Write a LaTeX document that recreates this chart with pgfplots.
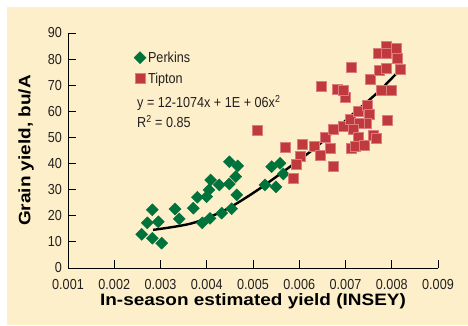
\documentclass[border=0pt]{standalone}
\usepackage{pgfplots}
\pgfplotsset{compat=1.18}
\usepackage{fontspec}
\setmainfont{Liberation Sans}[FakeStretch=0.87]
\newfontfamily\titlefont{Liberation Sans}[FakeStretch=1.15]
\definecolor{cream}{HTML}{FCEFC9}
\definecolor{pgreen}{HTML}{00723C}
\definecolor{tred}{HTML}{C0393C}
\definecolor{tredb}{HTML}{DC7C7E}
\definecolor{txt}{HTML}{231F20}
\begin{document}
\begin{tikzpicture}[x=1pt,y=1pt]
\path[use as bounding box] (0,0) rectangle (468,326);
\fill[cream] (7,1) rectangle (468,319);
\begin{axis}[
  at={(68pt,58pt)}, anchor=south west,
  width=370pt, height=235pt, scale only axis,
  xmin=0.001, xmax=0.009, ymin=0, ymax=90,
  scaled x ticks=false, scaled y ticks=false,
  axis lines*=left, axis line style={line width=0.9pt, black},
  xtick={0.001,0.002,0.003,0.004,0.005,0.006,0.007,0.008,0.009},
  xticklabels={0.001,0.002,0.003,0.004,0.005,0.006,0.007,0.008,0.009},
  ytick={0,10,20,30,40,50,60,70,80,90},
  yticklabels={0,10,20,30,40,50,60,70,80,90},
  tick align=inside, major tick length=8pt,
  tick style={line width=0.9pt, black},
  /pgf/number format/assume math mode=true,
  ticklabel style={font=\fontsize{14.5}{16}\selectfont, text=txt},
  xticklabel style={inner sep=0pt, anchor=north, yshift=-11pt},
  yticklabel style={inner sep=0pt, anchor=east, xshift=-6pt},
  xlabel={In-season estimated yield (INSEY)},
  ylabel={Grain yield, bu/A},
  label style={font=\titlefont\bfseries\fontsize{16.5}{18}\selectfont, text=black},
  xlabel style={at={(axis description cs:0.5,-0.1434)}, anchor=center},
  ylabel style={at={(axis description cs:-0.1135,0.5)}, anchor=center},
  clip=false,
  legend style={at={(axis description cs:0.178,0.93)}, anchor=north west,
    draw=none, fill=none, inner sep=0pt, row sep=5pt,
    font=\fontsize{14.5}{16}\selectfont, text=txt,
    /tikz/every even column/.append style={column sep=4pt}},
  legend cell align=left,
  legend image code/.code={\draw[#1] plot coordinates {(6pt,0pt)};},
]
\addplot[only marks, mark=square*, mark size=4.25pt, mark options={rotate=45, fill=pgreen, draw=pgreen}] coordinates {
(0.002594,12.9) (0.002823,22.3) (0.002715,17.3) (0.002952,17.7)
(0.002823,11.4) (0.003026,9.5) (0.003314,22.6) (0.003406,18.8)
(0.003709,22.9) (0.003796,27.1) (0.003904,17.3) (0.004070,19.0)
(0.003999,27.3) (0.004085,33.7) (0.004049,29.9) (0.004271,31.8)
(0.004323,21.0) (0.004488,32.2) (0.004488,40.7) (0.004669,39.1)
(0.004626,35.0) (0.004648,28.0) (0.004539,22.7) (0.005404,38.8)
(0.005584,40.1) (0.005655,36.0) (0.005259,31.8) (0.005497,31.1)
};
\addlegendentry{Perkins}
\addplot[only marks, mark=square*, mark size=5pt, mark options={fill=tred, draw=tredb, line width=0.6pt}] coordinates {
(0.005101,52.9) (0.005692,46.1) (0.006066,47.5) (0.006016,42.6)
(0.005930,39.8) (0.005872,34.4) (0.006326,46.7) (0.006449,43.3)
(0.006557,50.1) (0.006680,45.8) (0.006736,39.1) (0.006470,69.7)
(0.006823,68.4) (0.006989,65.4) (0.006953,67.9) (0.006736,53.1)
(0.006953,54.1) (0.007097,56.9) (0.007277,59.9) (0.007472,62.4)
(0.007515,59.0) (0.007459,55.6) (0.007299,55.4) (0.007169,53.1)
(0.007277,50.1) (0.007134,45.8) (0.007205,46.5) (0.007400,47.1)
(0.007601,50.9) (0.007675,49.7) (0.007904,56.7) (0.007134,76.9)
(0.007530,72.4) (0.007731,75.8) (0.007876,76.5) (0.007782,68.2)
(0.007984,68.2) (0.008178,76.1) (0.008120,80.3) (0.008107,84.1)
(0.007891,84.8) (0.007709,82.2) (0.007876,82.2)
};
\addlegendentry{Tipton}
\addplot[smooth, line width=2.4pt, black, forget plot] coordinates {
(0.00284,14.6) (0.003675,17.1) (0.004395,22.2) (0.005044,29.2)
(0.005655,36.9) (0.006377,46.5) (0.007097,58.0) (0.007675,66.9)
(0.008107,74.6)
};
\end{axis}
\node[anchor=west, inner sep=0pt, text=txt, font=\fontsize{14.5}{16}\selectfont] at (137,223) {y = 12-1074x + 1E + 06x\textsuperscript{2}};
\node[anchor=west, inner sep=0pt, text=txt, font=\fontsize{14.5}{16}\selectfont] at (137,204.5) {R\textsuperscript{2} = 0.85};
\end{tikzpicture}
\end{document}
